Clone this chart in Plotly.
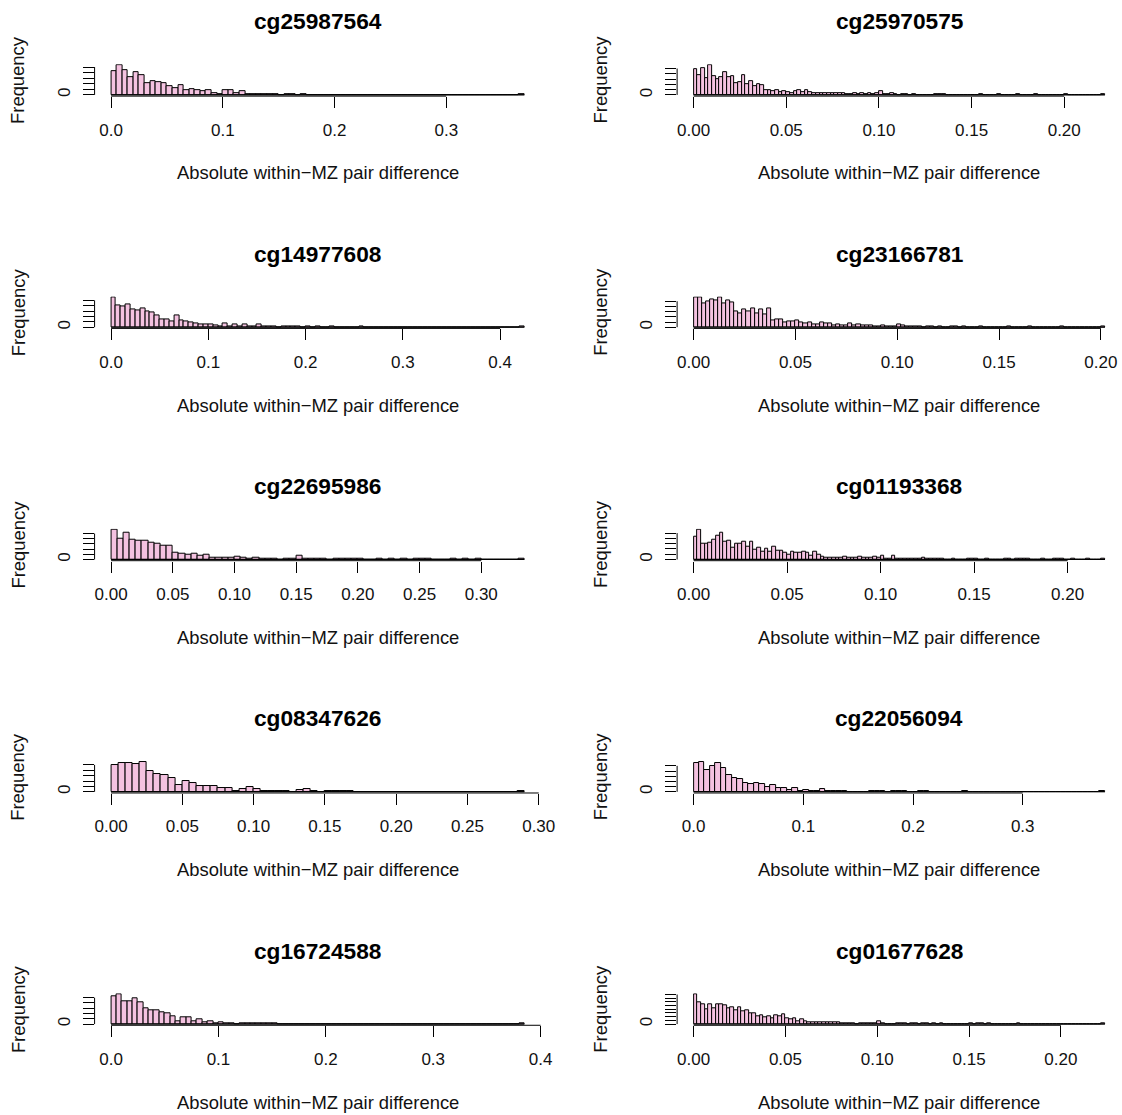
import plotly.graph_objects as go

# Histograms of absolute within-MZ-pair methylation differences, one panel per CpG probe.

probes = ["cg25987564", "cg25970575", "cg14977608", "cg23166781", "cg22695986",
          "cg01193368", "cg08347626", "cg22056094", "cg16724588", "cg01677628"]

# bin widths of each histogram (breaks start at 0)
bin_width = [0.005, 0.002, 0.005, 0.002, 0.005, 0.002, 0.005, 0.005, 0.005, 0.002]

# counts per bin
counts_cg25987564 = [42, 53, 44, 31, 41, 36, 22, 24, 23, 22, 16, 12, 18, 8, 10, 8, 6, 8, 3, 2,
                     8, 8, 3, 6, 2, 1, 1, 2, 1, 1, 0, 1, 1, 0, 1, 0, 0, 0, 0, 0,
                     0, 0, 0, 0, 0, 0, 0, 0, 0, 0, 0, 0, 0, 0, 0, 0, 0, 0, 0, 0,
                     0, 0, 0, 0, 0, 0, 0, 0, 0, 0, 0, 0, 0, 1]
counts_cg25970575 = [24, 19, 25, 16, 28, 18, 15, 17, 22, 17, 18, 11, 12, 19, 10, 13, 8, 10, 9, 5,
                     5, 4, 5, 3, 4, 3, 2, 4, 5, 3, 5, 3, 2, 2, 2, 2, 2, 2, 2, 2,
                     2, 1, 1, 2, 1, 2, 1, 2, 1, 2, 4, 1, 1, 2, 1, 0, 1, 1, 0, 1,
                     0, 0, 0, 0, 0, 1, 1, 1, 0, 0, 0, 0, 0, 0, 0, 0, 0, 1, 0, 0,
                     0, 0, 1, 0, 0, 0, 0, 1, 0, 0, 0, 0, 1, 0, 0, 0, 0, 0, 0, 0,
                     1, 0, 0, 0, 0, 0, 0, 0, 0, 0, 1]
counts_cg14977608 = [55, 41, 39, 43, 33, 31, 35, 29, 27, 22, 15, 15, 11, 21, 12, 11, 9, 7, 6, 5,
                     5, 3, 2, 7, 2, 5, 2, 5, 2, 1, 5, 1, 1, 1, 0, 1, 1, 1, 1, 0,
                     2, 0, 1, 0, 0, 1, 0, 0, 0, 0, 0, 1, 0, 0, 0, 0, 0, 0, 0, 0,
                     0, 0, 0, 0, 0, 0, 0, 0, 0, 0, 0, 0, 0, 0, 0, 0, 0, 0, 0, 0,
                     0, 0, 0, 0, 1]
counts_cg23166781 = [57, 57, 45, 50, 54, 52, 57, 45, 51, 47, 30, 27, 35, 31, 37, 27, 35, 24, 37, 13,
                     15, 15, 9, 11, 11, 13, 9, 7, 9, 6, 6, 9, 7, 7, 4, 5, 4, 3, 7, 4,
                     5, 3, 3, 4, 2, 2, 4, 1, 1, 1, 5, 4, 1, 2, 1, 1, 0, 1, 1, 0,
                     1, 0, 0, 1, 1, 0, 1, 0, 0, 0, 1, 0, 0, 0, 0, 0, 0, 1, 0, 0,
                     0, 0, 1, 0, 0, 0, 0, 0, 0, 0, 1, 0, 0, 0, 0, 0, 0, 0, 0, 0,
                     1]
counts_cg22695986 = [57, 40, 52, 39, 37, 37, 32, 30, 27, 27, 13, 11, 9, 12, 8, 9, 4, 3, 3, 3,
                     6, 3, 2, 3, 2, 1, 1, 0, 1, 1, 7, 1, 1, 1, 1, 0, 1, 1, 1, 1,
                     1, 0, 0, 1, 0, 1, 0, 1, 0, 1, 1, 1, 0, 0, 0, 1, 0, 1, 0, 1,
                     0, 0, 0, 0, 0, 0, 1]
counts_cg01193368 = [44, 56, 29, 29, 31, 38, 45, 50, 34, 36, 23, 29, 29, 34, 25, 34, 19, 23, 14, 21,
                     14, 25, 17, 17, 13, 9, 14, 12, 12, 14, 12, 8, 14, 9, 6, 4, 4, 3, 4, 3,
                     6, 3, 4, 3, 6, 4, 4, 3, 6, 3, 7, 1, 2, 7, 1, 1, 1, 1, 1, 1,
                     1, 4, 1, 1, 1, 1, 1, 0, 0, 1, 0, 0, 0, 1, 1, 1, 0, 0, 1, 0,
                     0, 0, 0, 1, 1, 0, 1, 1, 1, 1, 0, 0, 0, 1, 0, 0, 1, 1, 1, 0,
                     0, 1, 0, 0, 0, 1, 0, 0, 0, 1]
counts_cg08347626 = [49, 53, 53, 51, 55, 39, 33, 31, 25, 13, 20, 17, 10, 10, 10, 7, 7, 1, 5, 8,
                     5, 1, 1, 1, 1, 0, 3, 5, 1, 0, 1, 1, 1, 1, 0, 0, 0, 0, 0, 0,
                     0, 0, 0, 0, 0, 0, 0, 0, 0, 0, 0, 0, 0, 0, 0, 0, 0, 1]
counts_cg22056094 = [55, 57, 42, 50, 55, 45, 33, 27, 25, 17, 15, 17, 15, 10, 13, 8, 8, 4, 8, 2,
                     3, 1, 1, 5, 1, 1, 1, 1, 0, 0, 0, 0, 1, 1, 1, 0, 1, 1, 1, 0,
                     0, 1, 1, 0, 0, 0, 0, 0, 0, 1, 0, 0, 0, 0, 0, 0, 0, 0, 0, 0,
                     0, 0, 0, 0, 0, 0, 0, 0, 0, 0, 0, 0, 0, 0, 1]
counts_cg16724588 = [52, 56, 44, 44, 48, 42, 29, 27, 26, 23, 21, 15, 6, 12, 12, 6, 9, 3, 5, 1,
                     4, 2, 1, 0, 1, 1, 1, 1, 1, 1, 1, 0, 0, 0, 0, 0, 0, 0, 0, 0,
                     0, 0, 0, 0, 0, 0, 0, 0, 0, 0, 0, 0, 0, 0, 0, 0, 0, 0, 0, 0,
                     0, 0, 0, 0, 0, 0, 0, 0, 0, 0, 0, 0, 0, 0, 0, 0, 1]
counts_cg01677628 = [40, 30, 27, 20, 27, 22, 27, 27, 25, 22, 23, 18, 23, 17, 19, 14, 15, 11, 12, 9,
                     11, 8, 12, 10, 13, 8, 6, 8, 4, 6, 4, 3, 3, 2, 3, 3, 3, 2, 3, 2,
                     1, 1, 1, 1, 0, 1, 1, 1, 1, 1, 4, 1, 0, 0, 0, 1, 1, 1, 0, 1,
                     1, 0, 1, 1, 0, 1, 0, 1, 0, 0, 0, 0, 0, 0, 0, 1, 0, 1, 1, 0,
                     1, 0, 0, 0, 0, 0, 0, 0, 1, 0, 0, 0, 0, 0, 0, 0, 0, 0, 0, 0,
                     0, 0, 0, 0, 0, 0, 0, 0, 0, 0, 0, 1]

all_counts = [counts_cg25987564, counts_cg25970575, counts_cg14977608, counts_cg23166781,
              counts_cg22695986, counts_cg01193368, counts_cg08347626, counts_cg22056094,
              counts_cg16724588, counts_cg01677628]

# x-axis tick values and the number of decimals shown on their labels
x_ticks = [
    [0.0, 0.1, 0.2, 0.3],
    [0.0, 0.05, 0.10, 0.15, 0.20],
    [0.0, 0.1, 0.2, 0.3, 0.4],
    [0.0, 0.05, 0.10, 0.15, 0.20],
    [0.0, 0.05, 0.10, 0.15, 0.20, 0.25, 0.30],
    [0.0, 0.05, 0.10, 0.15, 0.20],
    [0.0, 0.05, 0.10, 0.15, 0.20, 0.25, 0.30],
    [0.0, 0.1, 0.2, 0.3],
    [0.0, 0.1, 0.2, 0.3, 0.4],
    [0.0, 0.05, 0.10, 0.15, 0.20],
]
x_tick_decimals = [1, 2, 1, 2, 2, 2, 2, 1, 1, 2]
# spacing of the frequency ticks
y_tick_step = [10, 5, 10, 10, 10, 10, 10, 10, 10, 5]

x_label = "Absolute within\u2212MZ pair difference"
y_label = "Frequency"

# ---- page geometry (pixels) ----
W, H = 1122, 1115
LAYOUT_W = 1107          # width the page actually lays the figure out at
FONT = "Liberation Sans, Arial, sans-serif"
FILL = "#F4C2E0"
# per column: plot-region edges, and pixel positions of x = 0 and of the last break
col_region = [(94.5, 540.5), (676.5, 1107.0)]
col_data = [(111.0, 524.0), (693.0, 1104.0)]
row_base = [95, 327.5, 560, 792.5, 1025]   # pixel row of the zero line
PLOT_H = 32


def fx(px):
    return px / LAYOUT_W


fig = go.Figure()
layout = dict(width=W, height=H, autosize=False, margin=dict(l=0, r=0, t=0, b=0),
              paper_bgcolor="white", plot_bgcolor="white", showlegend=False,
              bargap=0, font=dict(family=FONT, color="black"))
annotations, shapes = [], []

for i, probe in enumerate(probes):
    row, col = divmod(i, 2)
    k = "" if i == 0 else str(i + 1)
    xa, ya = "x" + k, "y" + k
    counts = all_counts[i]
    bw = bin_width[i]
    n = len(counts)
    L = n * bw
    M = max(counts)
    centers = [bw * (j + 0.5) for j in range(n)]

    x0p, x1p = col_region[col]
    d0, d1 = col_data[col]
    span = d1 - d0
    xr = [(x0p - d0) / span * L, (x1p - d0) / span * L]
    yb = row_base[row]
    bot = yb + 1.2
    top = bot - PLOT_H

    fig.add_trace(go.Bar(x=centers, y=counts, width=bw, xaxis=xa, yaxis=ya,
                         marker=dict(color=FILL, line=dict(color="black", width=1)),
                         hoverinfo="skip"))
    # zero-height bins still draw their bottom edge
    fig.add_trace(go.Scatter(x=[0, L], y=[0, 0], mode="lines", xaxis=xa, yaxis=ya,
                             line=dict(color="black", width=1), hoverinfo="skip"))

    xt = x_ticks[i]
    d = x_tick_decimals[i]
    step = y_tick_step[i]
    yt = list(range(0, M + 1, step))

    layout["xaxis" + k] = dict(
        domain=[fx(x0p), min(1.0, fx(x1p))], anchor=ya, range=xr,
        showgrid=False, zeroline=False, showline=False,
        tickmode="array", tickvals=xt, ticktext=[f"{v:.{d}f}" for v in xt],
        ticks="outside", ticklen=11, tickwidth=1, tickcolor="black",
        tickfont=dict(size=17, family=FONT, color="#111"), ticklabelstandoff=7,
        fixedrange=True)
    layout["yaxis" + k] = dict(
        domain=[1 - bot / H, 1 - top / H], anchor=xa, range=[-0.04 * M, 1.04 * M],
        showgrid=False, zeroline=False, showline=False,
        tickmode="array", tickvals=yt, ticktext=["0"] + [""] * (len(yt) - 1),
        ticks="outside", ticklen=11, tickwidth=1, tickcolor="black", tickangle=-90,
        tickfont=dict(size=17, family=FONT, color="#111"), ticklabelstandoff=6,
        fixedrange=True)

    # axis lines spanning the tick range
    shapes.append(dict(type="line", xref=xa, yref=ya + " domain", x0=xt[0], x1=xt[-1],
                       y0=0, y1=0, line=dict(color="black", width=1)))
    shapes.append(dict(type="line", xref=xa + " domain", yref=ya, x0=0, x1=0,
                       y0=0, y1=yt[-1], line=dict(color="black", width=1)))

    cx = (d0 - 0.04 * span + d1 + 0.04 * span) / 2
    annotations.append(dict(text=f"<b>{probe}</b>", x=fx(cx), y=1 - (yb - 73.5) / H,
                            xref="paper", yref="paper", showarrow=False,
                            xanchor="center", yanchor="middle",
                            font=dict(size=22.7, family=FONT, color="black")))
    annotations.append(dict(text=x_label, x=fx(cx), y=1 - (yb + 78) / H,
                            xref="paper", yref="paper", showarrow=False,
                            xanchor="center", yanchor="middle",
                            font=dict(size=18.4, family=FONT, color="#111")))
    annotations.append(dict(text=y_label, x=fx(x0p - 76.5), y=1 - (yb - 15) / H,
                            xref="paper", yref="paper", showarrow=False, textangle=-90,
                            xanchor="center", yanchor="middle",
                            font=dict(size=18.4, family=FONT, color="#111")))

layout["annotations"] = annotations
layout["shapes"] = shapes
fig.update_layout(**layout)
fig.write_html("out.html", config={"responsive": False})
